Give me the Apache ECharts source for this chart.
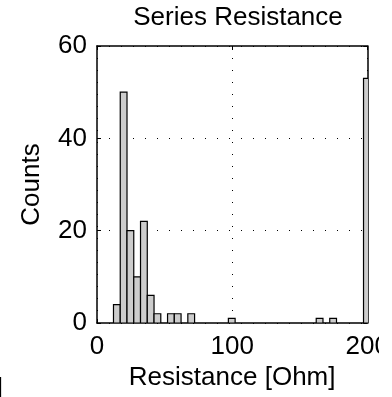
<!DOCTYPE html>
<html>
<head>
<meta charset="utf-8">
<script src="https://cdn.jsdelivr.net/npm/echarts@6/dist/echarts.min.js"></script>
<style>
html,body{margin:0;padding:0;background:#fff;}
#chart{width:392px;height:397px;}
</style>
</head>
<body>
<div id="chart"></div>
<script>
// Histogram data: lower edge of each non-empty bin (Ohm) and its count
const binStarts = [12.2, 17.2, 22.2, 27.2, 32.2, 37.2, 42.2, 52.2, 57.2, 67.2, 97.2, 162.2, 172.2, 197.2];
const binCounts = [4, 50, 20, 10, 22, 6, 2, 2, 2, 2, 1, 1, 1, 53];
const binWidth = 5;
const xTicks = [0, 100, 200];
const yTicks = [0, 20, 40, 60];
const titleText = 'Series Resistance';
const xName = 'Resistance [Ohm]';
const yName = 'Counts';

const FONT = 'Liberation Sans';
const FS = 26;
const chart = echarts.init(document.getElementById('chart'), null, {renderer: 'canvas'});

const seriesData = binStarts.map((s, i) => [s, binCounts[i]]);

function axisBase() {
  return {
    axisLine: {show: true, onZero: false, lineStyle: {color: '#000', width: 1.5}},
    axisTick: {show: true, inside: true, length: 4, lineStyle: {color: '#000', width: 1}}
  };
}

chart.setOption({
  animation: false,
  backgroundColor: '#fff',
  title: {
    text: titleText,
    left: 233,
    top: 0,
    textAlign: 'center',
    textStyle: {fontFamily: FONT, fontSize: FS, fontWeight: 'normal', color: '#000'}
  },
  grid: {left: 97, right: 23, top: 46, bottom: 74, containLabel: false},
  xAxis: [
    Object.assign(axisBase(), {
      type: 'value', min: xTicks[0], max: xTicks[xTicks.length - 1], interval: 100,
      position: 'bottom',
      name: xName, nameLocation: 'middle', nameGap: 40,
      nameTextStyle: {fontFamily: FONT, fontSize: FS, color: '#000'},
      axisLabel: {fontFamily: FONT, fontSize: FS, color: '#000', margin: 11},
      splitLine: {show: true, lineStyle: {color: '#000', width: 1, type: [1, 11]}}
    }),
    Object.assign(axisBase(), {
      type: 'value', min: xTicks[0], max: xTicks[xTicks.length - 1], interval: 100,
      position: 'top',
      axisLabel: {show: false},
      splitLine: {show: false}
    })
  ],
  yAxis: [
    Object.assign(axisBase(), {
      type: 'value', min: yTicks[0], max: yTicks[yTicks.length - 1], interval: 20,
      position: 'left',
      name: yName, nameLocation: 'middle', nameGap: 52,
      nameTextStyle: {fontFamily: FONT, fontSize: FS, color: '#000'},
      axisLabel: {fontFamily: FONT, fontSize: FS, color: '#000', margin: 10},
      splitLine: {show: true, lineStyle: {color: '#000', width: 1, type: [1, 11]}}
    }),
    Object.assign(axisBase(), {
      type: 'value', min: yTicks[0], max: yTicks[yTicks.length - 1], interval: 20,
      position: 'right',
      axisLabel: {show: false},
      splitLine: {show: false}
    })
  ],
  series: [{
    type: 'custom',
    xAxisIndex: 0,
    yAxisIndex: 0,
    clip: true,
    data: seriesData,
    renderItem: function (params, api) {
      const s = api.value(0), c = api.value(1);
      const p0 = api.coord([s, c]);
      const p1 = api.coord([s + binWidth, 0]);
      return {
        type: 'rect',
        shape: {x: p0[0], y: p0[1], width: p1[0] - p0[0], height: p1[1] - p0[1]},
        style: {fill: '#cccccc', stroke: '#000', lineWidth: 1.2}
      };
    }
  }],
  graphic: [
    {type: 'rect', left: 379, top: 0, z: 100, shape: {width: 13, height: 397}, style: {fill: '#fff'}},
    {type: 'text', x: 3, y: 376, z: 100, style: {text: ']', fontFamily: FONT, fontSize: FS, fill: '#000', align: 'right', verticalAlign: 'top'}}
  ]
});
</script>
</body>
</html>
